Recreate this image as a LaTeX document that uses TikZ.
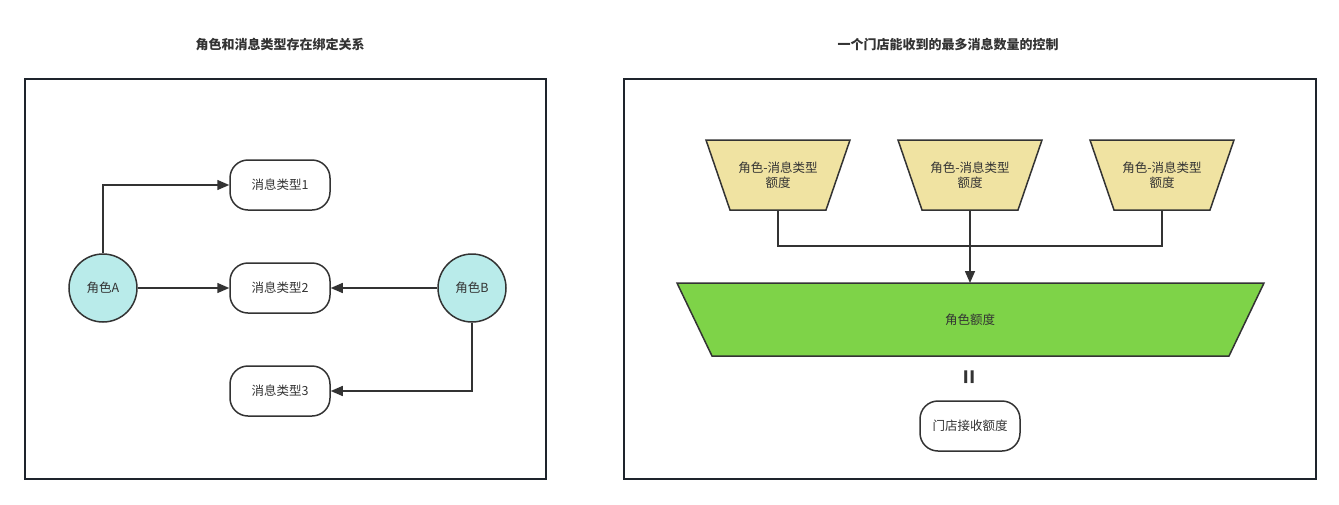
\documentclass[tikz,border=0pt]{standalone}
\usepackage{fontspec}
\setmainfont{Noto Sans CJK SC}
\usetikzlibrary{arrows.meta}
\definecolor{linec}{RGB}{51,51,51}
\definecolor{framec}{RGB}{30,36,44}
\definecolor{cyanf}{RGB}{185,235,234}
\definecolor{yellf}{RGB}{240,227,162}
\definecolor{greenf}{RGB}{126,211,72}
\definecolor{txt}{RGB}{51,51,51}
\tikzset{
  frame/.style={draw=framec,line width=1.5pt},
  lbl/.style={font=\fontsize{12.5}{15}\selectfont,text=txt},
  msgbox/.style={lbl,draw=linec,line width=1.5pt,fill=white,rounded corners=18pt,minimum width=100pt,minimum height=50pt},
  role/.style={lbl,circle,draw=linec,line width=1.5pt,fill=cyanf,minimum size=68pt,inner sep=0pt},
  qshape/.style={draw=linec,line width=1.5pt,fill=yellf},
  bigshape/.style={draw=linec,line width=1.5pt,fill=greenf},
  qtext/.style={lbl,align=center,inner sep=0pt},
  title/.style={font=\fontsize{13}{15}\selectfont\bfseries,text=txt},
  conn/.style={draw=linec,line width=1.5pt},
  arr/.style={conn,-{Triangle[length=12pt,width=10pt]}}
}
\begin{document}
\begin{tikzpicture}[x=1pt,y=-1pt]
\useasboundingbox (0,0) rectangle (1339,504);
\fill[white] (0,0) rectangle (1339,504);
% titles
\node[title] (t1title) at (280,45) {角色和消息类型存在绑定关系};
\node[title] (t2title) at (948,45) {一个门店能收到的最多消息数量的控制};
% frames
\draw[frame] (25,79) rectangle (546,479);
\draw[frame] (624,79) rectangle (1316,479);
% left diagram
\node[msgbox] (m1) at (280,185) {消息类型1};
\node[msgbox] (m2) at (280,288) {消息类型2};
\node[msgbox] (m3) at (280,391) {消息类型3};
\node[role] (ra) at (103,288) {角色A};
\node[role] (rb) at (472,288) {角色B};
\draw[arr] (ra.north) |- (m1.west);
\draw[arr] (ra.east) -- (m2.west);
\draw[arr] (rb.west) -- (m2.east);
\draw[arr] (rb.south) |- (m3.east);
% right diagram: quota trapezoids
\foreach \n/\cx in {q1/778,q2/970,q3/1162}{
  \draw[qshape] (\cx-72,140) -- (\cx+72,140) -- (\cx+48,210) -- (\cx-48,210) -- cycle;
  \coordinate (\n b) at (\cx,210);
}
\node[qtext] (q1) at (778,175) {角色-消息类型\\额度};
\node[qtext] (q2) at (970,175) {角色-消息类型\\额度};
\node[qtext] (q3) at (1162,175) {角色-消息类型\\额度};
\draw[bigshape] (677,283) -- (1264,283) -- (1229,356) -- (712,356) -- cycle;
\coordinate (bigtop) at (970,283);
\node[qtext] (big) at (970,320) {角色额度};
\coordinate (j) at (970,246);
\draw[conn] (q1b) |- (j);
\draw[conn] (q3b) |- (j);
\draw[arr] (q2b) -- (bigtop);
\node[font=\fontsize{24}{24}\selectfont\bfseries,text=txt,rotate=90] (eq) at (972,377) {=};
\node[msgbox] (rcv) at (970,426) {门店接收额度};
\end{tikzpicture}
\end{document}
